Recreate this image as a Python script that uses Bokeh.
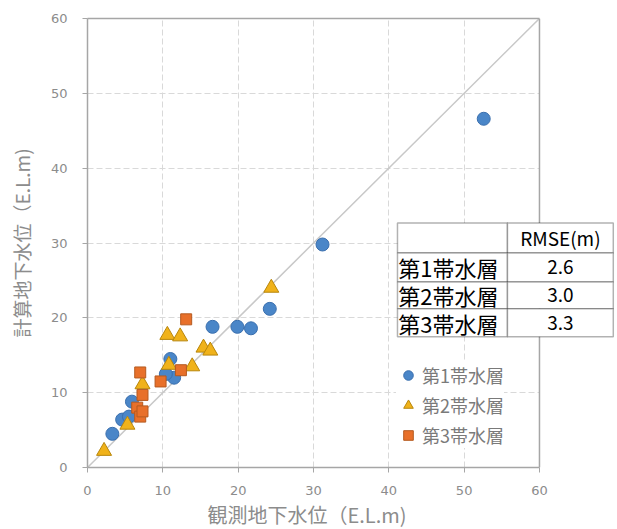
from bokeh.plotting import figure
from bokeh.models import (Range1d, FixedTicker, Legend, LegendItem, Label,
                          BoxAnnotation, ColumnDataSource, Span, LinearAxis,
                          Title, Grid)
from bokeh.embed import file_html
from bokeh.resources import INLINE

# ---- data (observed, calculated groundwater level, E.L.m) ----
aq1_obs = [52.6, 31.2, 24.2, 21.7, 19.9, 16.6, 11.0, 11.5, 10.4, 5.9, 4.6, 5.5, 3.3]
aq1_calc = [46.6, 29.8, 21.2, 18.6, 18.8, 18.8, 14.5, 12.0, 12.5, 8.8, 6.4, 6.8, 4.5]

aq2_obs = [2.2, 5.3, 7.3, 10.6, 12.3, 15.4, 16.3, 13.9, 10.8, 24.4]
aq2_calc = [2.2, 5.7, 11.1, 17.7, 17.5, 16.0, 15.6, 13.5, 13.7, 24.0]

aq3_obs = [13.1, 7.0, 7.3, 9.7, 12.4, 6.6, 7.0, 7.3]
aq3_calc = [19.8, 12.7, 9.7, 11.5, 13.0, 8.0, 6.8, 7.5]

series_names = ["第1帯水層", "第2帯水層", "第3帯水層"]
rmse_values = ["2.6", "3.0", "3.3"]
rmse_header = "RMSE(m)"
axis_ticks = [0, 10, 20, 30, 40, 50, 60]
axis_max = 60
one_to_one = [0, 60]
x_title = "観測地下水位（E.L.m)"
y_title = "計算地下水位（E.L.m)"

CJK = "Noto Sans CJK JP"
GRAY = "#a6a6a6"
TICK_GRAY = "#8c8c8c"

# frame is widened to the right so that the RMSE table can sit beside the axes
p = figure(width=615, height=528, output_backend="svg", toolbar_location=None,
           x_range=Range1d(0, 69.96), y_range=Range1d(0, axis_max),
           min_border_left=87, min_border_right=1, min_border_top=18,
           min_border_bottom=60)
p.background_fill_color = "white"
p.border_fill_color = "white"
p.outline_line_color = None

for ax in (p.xaxis[0], p.yaxis[0]):
    ax.ticker = FixedTicker(ticks=axis_ticks)
    ax.bounds = (0, axis_max)
    ax.axis_line_color = GRAY
    ax.axis_line_width = 1.5
    ax.major_tick_line_color = GRAY
    ax.major_tick_out = 5
    ax.major_tick_in = 0
    ax.minor_tick_line_color = None
    ax.major_label_text_font = "DejaVu Sans"
    ax.major_label_text_font_size = "13px"
    ax.major_label_text_color = TICK_GRAY
p.xaxis.major_label_standoff = 13
p.yaxis.major_label_standoff = 15
p.yaxis.axis_label = y_title
p.yaxis.axis_label_text_font = CJK
p.yaxis.axis_label_text_font_size = "19px"
p.yaxis.axis_label_text_font_style = "normal"
p.yaxis.axis_label_text_color = TICK_GRAY
p.yaxis.axis_label_standoff = 13

# top border of the plot area (stops at 60 like the x axis)
top_axis = LinearAxis(ticker=FixedTicker(ticks=[]), bounds=(0, axis_max),
                      axis_line_color=GRAY, axis_line_width=1.5,
                      major_tick_line_color=None, minor_tick_line_color=None,
                      major_label_text_font_size="0px")
p.add_layout(top_axis, "above")

for g in (p.xgrid[0], p.ygrid[0]):
    g.ticker = FixedTicker(ticks=axis_ticks)
    g.grid_line_color = "#d9d9d9"
    g.grid_line_dash = "6 3"
    g.grid_line_width = 1
if "cross_bounds" in Grid.properties():
    p.ygrid[0].cross_bounds = (0, axis_max)
    p.xgrid[0].cross_bounds = (0, axis_max)

# white mask right of the plot area (hides grid beyond 60)
p.add_layout(BoxAnnotation(left=axis_max, fill_color="white", fill_alpha=1,
                           line_color=None, level="underlay"))

p.line(one_to_one, one_to_one, line_color="#c8c8c8", line_width=1.5)

s1 = ColumnDataSource(dict(x=aq1_obs, y=aq1_calc))
s2 = ColumnDataSource(dict(x=aq2_obs, y=aq2_calc))
s3 = ColumnDataSource(dict(x=aq3_obs, y=aq3_calc))

r1 = p.scatter("x", "y", source=s1, marker="circle", size=13,
               fill_color="#4a86c8", line_color="#3a6fae", line_width=1)
r2 = p.scatter("x", "y", source=s2, marker="triangle", size=15,
               fill_color="#f0b21a", line_color="#b8860b", line_width=1)
r3 = p.scatter("x", "y", source=s3, marker="square", size=11,
               fill_color="#e8702a", line_color="#b55a20", line_width=1)

# right border of the plot area at x = 60
p.add_layout(Span(location=axis_max, dimension="height", line_color=GRAY,
                  line_width=1.5, level="overlay"))

legend = Legend(items=[LegendItem(label=series_names[0], renderers=[r1]),
                       LegendItem(label=series_names[1], renderers=[r2]),
                       LegendItem(label=series_names[2], renderers=[r3])],
                location=(309, 19), orientation="vertical",
                glyph_width=24, glyph_height=24, label_standoff=2,
                spacing=4, padding=4, margin=0,
                label_text_font=CJK, label_text_font_size="18px",
                label_text_color="#7a7a7a",
                background_fill_color="white", background_fill_alpha=1,
                border_line_color=None)
p.add_layout(legend, "center")

# ---- RMSE table ----
col_edges = [41.15, 55.75, 69.8]
row_edges = [32.67, 28.67, 24.8, 21.2, 17.47]
table_rows = [["", rmse_header]] + [[n, v] for n, v in zip(series_names, rmse_values)]
for ri in range(4):
    for ci in range(2):
        p.add_layout(BoxAnnotation(left=col_edges[ci], right=col_edges[ci + 1],
                                   top=row_edges[ri], bottom=row_edges[ri + 1],
                                   fill_color="white", fill_alpha=1,
                                   line_color="black", line_width=1.5,
                                   level="overlay"))
for ri in range(4):
    ymid = (row_edges[ri] + row_edges[ri + 1]) / 2
    name, val = table_rows[ri]
    if name:
        p.add_layout(Label(x=col_edges[0] + 0.1, y=ymid, text=name,
                           text_align="left", text_baseline="middle",
                           text_font=CJK, text_font_size="22px",
                           text_color="black", level="overlay"))
    p.add_layout(Label(x=(col_edges[1] + col_edges[2]) / 2, y=ymid, text=val,
                       text_align="center", text_baseline="middle",
                       text_font=CJK, text_font_size="19px",
                       text_color="black", level="overlay"))

# ---- x axis title (placed below, centred under the 0-60 axis) ----
xt = Title(text=x_title, align="left", offset=120, standoff=0,
           text_font=CJK, text_font_size="20px", text_font_style="normal",
           text_color=TICK_GRAY)
p.add_layout(xt, "below")

open("out.html", "w").write(file_html(p, INLINE))
